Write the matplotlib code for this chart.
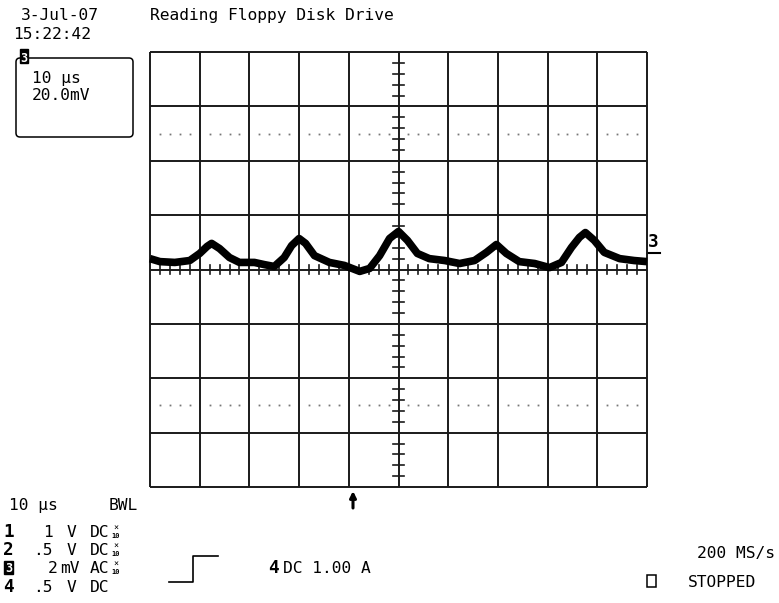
import matplotlib
matplotlib.use('Agg')
import matplotlib.pyplot as plt
from matplotlib.patches import FancyBboxPatch, Rectangle

W, H = 779, 603
MONO = 'DejaVu Sans Mono'
FS = 11.7

# channel 3 trace (time in us, level in mV, 10 us/div, 20 mV/div)
time_us = [-50, -48, -45, -42, -40, -38.5, -37.6, -36, -34, -32, -29, -27, -25,
           -23, -21.5, -20, -18.7, -16.9, -13.9, -10.9, -7.8, -5.8, -3.8, -1.8,
           0, 1.8, 3.8, 6.2, 9.3, 12.3, 15.3, 17.7, 19.7, 21.7, 24.3, 27.4, 30.4,
           32.8, 34.8, 36.4, 37.6, 39.4, 41.4, 44.5, 47.4, 50]
ch3_mv = [4.0, 2.9, 2.6, 3.3, 5.9, 8.5, 9.6, 7.7, 4.4, 2.6, 2.6, 1.8, 1.1,
          4.4, 8.8, 11.4, 9.6, 5.1, 2.6, 1.5, -0.7, 0.4, 5.1, 11.4,
          14.0, 10.7, 5.9, 4.0, 3.3, 2.2, 3.3, 6.3, 9.2, 5.9, 2.9, 2.2, 0.7,
          2.6, 8.1, 11.8, 13.6, 10.7, 6.3, 4.0, 3.3, 2.9]

div_x = [-50, -40, -30, -20, -10, 0, 10, 20, 30, 40, 50]
div_y = [-80, -60, -40, -20, 0, 20, 40, 60, 80]

header_date = '3-Jul-07'
header_time = '15:22:42'
title = 'Reading Floppy Disk Drive'
box_lines = ['10 µs', '20.0mV']
channels = [('1', '1', 'V', 'DC', True),
            ('2', '.5', 'V', 'DC', True),
            ('3', '2', 'mV', 'AC', True),
            ('4', '.5', 'V', 'DC', False)]

fig = plt.figure(figsize=(W / 100, H / 100), dpi=100)
fig.patch.set_facecolor('white')

# pixel-space overlay for all screen annotations
bg = fig.add_axes([0, 0, 1, 1])
bg.set_xlim(0, W)
bg.set_ylim(H, 0)
bg.axis('off')

# the graticule / trace area
left, right, top, bottom = 150, 647, 52, 487
ax = fig.add_axes([left / W, 1 - bottom / H, (right - left) / W, (bottom - top) / H])
ax.set_xlim(-50, 50)
ax.set_ylim(-80, 80)
ax.axis('off')

gc = '#1a1a1a'
for x in div_x:
    ax.plot([x, x], [-80, 80], color=gc, lw=1.4, clip_on=False, solid_capstyle='butt')
for y in div_y:
    ax.plot([-50, 50], [y, y], color=gc, lw=1.4, clip_on=False, solid_capstyle='butt')

# minor ticks on the center axes
for x in range(-50, 51, 2):
    if x % 10:
        ax.plot([x, x], [-1.5, 1.5], color=gc, lw=1.2)
for y in range(-80, 81, 4):
    if y % 20:
        ax.plot([-1.1, 1.1], [y, y], color=gc, lw=1.2)

# dotted rows
dots_x = [x for x in range(-48, 50, 2) if x % 10]
for yd in (50, -50):
    ax.plot(dots_x, [yd] * len(dots_x), ls='none', marker='s', ms=1.3,
            color='#777777', mew=0)

ax.plot(time_us, ch3_mv, color='black', lw=5.5, solid_joinstyle='round',
        solid_capstyle='butt', clip_on=False)


def put(x, y, s, **kw):
    kw.setdefault('fontsize', FS)
    kw.setdefault('family', MONO)
    bg.text(x, y, s, va='baseline', ha='left', color='black', **kw)


put(21, 20, header_date)
put(13, 39, header_time)
put(150, 20, title)

# channel 3 info box
bg.add_patch(FancyBboxPatch((16, 58), 117, 79, boxstyle='round,pad=0,rounding_size=4',
                            fc='white', ec='black', lw=1.1))
bg.add_patch(Rectangle((20, 49), 8, 14, fc='black', ec='black'))
bg.text(24, 61.5, '3', color='white', fontsize=8.5, fontweight='bold', family=MONO,
        ha='center', va='baseline')
put(32, 83, box_lines[0])
put(32, 100, box_lines[1])

# bottom-left channel table
put(9, 510, '10 µs')
put(109, 510, 'BWL')
row_y = [537, 555, 573, 592]
for (num, val, unit, cpl, probe), yb in zip(channels, row_y):
    if num == '3':
        bg.add_patch(Rectangle((4, yb - 12), 9, 13, fc='black', ec='black'))
        bg.text(8.5, yb - 1, '3', color='white', fontsize=8.5, fontweight='bold',
                family=MONO, ha='center', va='baseline')
    else:
        put(3, yb, num, fontweight='bold', fontsize=FS + 1)
    put(43 if val == '1' else (48 if val == '2' else 33), yb, val)
    put(60 if unit == 'mV' else 67, yb, unit)
    put(90, yb, cpl)
    if probe:
        bg.text(116, yb - 6, '×', fontsize=6, family=MONO, ha='center', va='baseline')
        bg.text(116, yb + 1, '10', fontsize=5, family=MONO, fontweight='bold',
                ha='center', va='baseline')

# trigger symbol and setup
bg.plot([169, 193, 193, 218], [582, 582, 556, 556], color='black', lw=1.2)
put(268, 573, '4', fontweight='bold', fontsize=FS + 1)
put(283, 573, 'DC 1.00 A')

# trigger position arrow
bg.annotate('', xy=(353, 491), xytext=(353, 508),
            arrowprops=dict(arrowstyle='-|>', color='black', lw=2.2,
                            mutation_scale=9, shrinkA=0, shrinkB=0))

# channel 3 ground marker on right
put(648, 247, '3', fontweight='bold', fontsize=FS + 1)
bg.plot([648, 660], [253, 253], color='black', lw=1.5)

# bottom-right status
put(697, 558, '200 MS/s')
bg.add_patch(Rectangle((647, 575), 9, 12, fc='none', ec='black', lw=1.1))
put(688, 587, 'STOPPED')

fig.savefig('out.png', dpi=100)
